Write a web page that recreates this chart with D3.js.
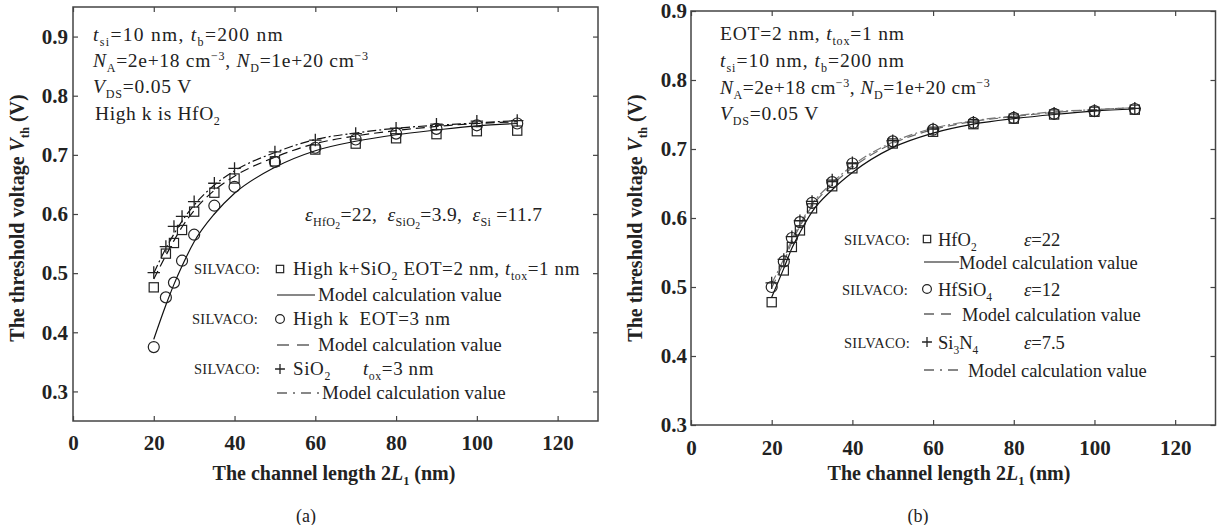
<!DOCTYPE html>
<html><head><meta charset="utf-8">
<script src="https://cdn.jsdelivr.net/npm/d3@7/dist/d3.min.js"></script>
<style>
html,body{margin:0;padding:0;background:#fff;}
svg{display:block;}
svg text{font-family:"Liberation Serif","Times New Roman",Times,serif;}
</style></head>
<body>
<svg id="chart" width="1223" height="525"></svg>
<script>
// ---------- DATA ----------
const xTicks = [0, 20, 40, 60, 80, 100, 120];
const yTicksA = [0.3, 0.4, 0.5, 0.6, 0.7, 0.8, 0.9];
const yTicksB = [0.3, 0.4, 0.5, 0.6, 0.7, 0.8, 0.9];
const lengths = [20, 23, 25, 27, 30, 35, 40, 50, 60, 70, 80, 90, 100, 110];

// Panel (a)
const aSquare  = [0.476, 0.533, 0.551, 0.573, 0.604, 0.636, 0.660, 0.689, 0.709, 0.719, 0.728, 0.735, 0.740, 0.741];
const aCircle  = [0.375, 0.459, 0.484, 0.521, 0.565, 0.614, 0.646, 0.688, 0.712, 0.726, 0.736, 0.744, 0.750, 0.753];
const aPlus    = [0.501, 0.545, 0.579, 0.596, 0.621, 0.652, 0.677, 0.705, 0.725, 0.736, 0.745, 0.752, 0.757, 0.758];
const aSolid   = [0.388, 0.446, 0.481, 0.512, 0.553, 0.600, 0.635, 0.679, 0.707, 0.723, 0.734, 0.742, 0.749, 0.753];
const aDash    = [0.490, 0.530, 0.555, 0.578, 0.606, 0.640, 0.664, 0.696, 0.719, 0.732, 0.741, 0.748, 0.753, 0.756];
const aDashDot = [0.500, 0.542, 0.566, 0.588, 0.615, 0.649, 0.673, 0.704, 0.726, 0.737, 0.745, 0.750, 0.754, 0.758];

// Panel (b)
const bSquare  = [0.478, 0.524, 0.558, 0.582, 0.614, 0.646, 0.672, 0.708, 0.725, 0.736, 0.744, 0.750, 0.754, 0.757];
const bCircle  = [0.500, 0.537, 0.571, 0.594, 0.622, 0.652, 0.679, 0.711, 0.728, 0.738, 0.745, 0.751, 0.755, 0.758];
const bPlus    = [0.506, 0.540, 0.573, 0.596, 0.624, 0.655, 0.680, 0.712, 0.729, 0.739, 0.746, 0.752, 0.756, 0.759];
const bSolid   = [0.485, 0.527, 0.556, 0.579, 0.609, 0.641, 0.666, 0.702, 0.723, 0.736, 0.744, 0.750, 0.755, 0.758];
const bDash    = [0.499, 0.536, 0.565, 0.588, 0.617, 0.648, 0.673, 0.708, 0.728, 0.740, 0.747, 0.753, 0.757, 0.760];
const bDashDot = [0.505, 0.541, 0.569, 0.591, 0.620, 0.651, 0.676, 0.710, 0.730, 0.741, 0.748, 0.754, 0.757, 0.760];

// ---------- DRAW ----------
const FONT = "Liberation Serif, Times New Roman, Times, serif";
const NB = "\u00a0";
const svg = d3.select("#chart").attr("font-family", FONT);
svg.append("rect").attr("width",1223).attr("height",525).attr("fill","#fff");

function rich(g, x, y, parts, size, opts={}) {
  const t = g.append("text").attr("x", x).attr("y", y).attr("font-family", FONT)
    .attr("font-size", size).attr("fill", "#222");
  if (opts.weight) t.attr("font-weight", opts.weight);
  if (opts.anchor) t.attr("text-anchor", opts.anchor);
  if (opts.transform) t.attr("transform", opts.transform);
  if (opts.ls) t.attr("letter-spacing", opts.ls);
  let cur = 0;
  parts.forEach(([txt, mode]) => {
    let off = 0, fs = size, italic = false;
    if (mode === "sub") { off = size * 0.26; fs = size * 0.62; }
    else if (mode === "sub2") { off = size * 0.42; fs = size * 0.5; }
    else if (mode === "sup") { off = -size * 0.38; fs = size * 0.62; }
    else if (mode === "i") { italic = true; }
    const ts = t.append("tspan").text(txt).attr("font-size", fs).attr("dy", off - cur);
    if (italic) ts.attr("font-style", "italic");
    cur = off;
  });
  return t;
}

function drawMarker(g, cx, cy, kind, s=1) {
  if (kind === "square") {
    const h = 4.6 * s;
    g.append("rect").attr("x", cx - h).attr("y", cy - h).attr("width", 2*h).attr("height", 2*h)
      .attr("fill", "none").attr("stroke", "#222").attr("stroke-width", 1.2);
  } else if (kind === "circle") {
    g.append("circle").attr("cx", cx).attr("cy", cy).attr("r", 5.5 * s)
      .attr("fill", "none").attr("stroke", "#222").attr("stroke-width", 1.2);
  } else {
    const h = 6.2 * s;
    g.append("path").attr("d", `M${cx-h},${cy}H${cx+h}M${cx},${cy-h}V${cy+h}`)
      .attr("stroke", "#222").attr("stroke-width", 1.3).attr("fill", "none");
  }
}
function markers(g, ys, xS, yS, kind) {
  lengths.forEach((xv, i) => drawMarker(g, xS(xv), yS(ys[i]), kind));
}

function panel(cfg) {
  const g = svg.append("g");
  const { xS, yS, yTicks } = cfg;
  const [x0, x1] = xS.range();
  const [y0, y1] = yS.range();
  const tickFont = 21;

  const line = (vals) => d3.line().curve(d3.curveMonotoneX)
    .x((d, i) => xS(lengths[i])).y(d => yS(d))(vals);
  cfg.lines.forEach(L => {
    g.append("path").attr("d", line(L.vals)).attr("fill", "none")
      .attr("stroke", L.color || "#111").attr("stroke-width", 1.2)
      .attr("stroke-dasharray", L.dash || null);
  });
  cfg.marks.forEach(M => markers(g, M.vals, xS, yS, M.kind));

  const ax = g.append("g").attr("transform", `translate(0,${y0})`)
    .call(d3.axisBottom(xS).tickValues(xTicks).tickFormat(d3.format("d")).tickSizeInner(-5).tickSizeOuter(0).tickPadding(cfg.xPad));
  const axT = g.append("g").attr("transform", `translate(0,${y1})`)
    .call(d3.axisTop(xS).tickValues(xTicks).tickFormat("").tickSizeInner(-5).tickSizeOuter(0));
  const ay = g.append("g").attr("transform", `translate(${x0},0)`)
    .call(d3.axisLeft(yS).tickValues(yTicks).tickFormat(d3.format(".1f")).tickSizeInner(-5).tickSizeOuter(0).tickPadding(cfg.yPad));
  const ayR = g.append("g").attr("transform", `translate(${x1},0)`)
    .call(d3.axisRight(yS).tickValues(yTicks).tickFormat("").tickSizeInner(-5).tickSizeOuter(0));
  [ax, axT, ay, ayR].forEach(a => {
    a.attr("font-family", FONT).attr("font-size", tickFont);
    a.select(".domain").remove();
    a.selectAll("line").attr("stroke", "#444").attr("stroke-width", 1.2);
    a.selectAll("text").attr("font-size", tickFont).attr("font-weight", "bold")
      .attr("font-family", FONT).attr("fill", "#222");
  });
  g.append("rect").attr("x", x0).attr("y", y1).attr("width", x1 - x0).attr("height", y0 - y1)
    .attr("fill", "none").attr("stroke", "#444").attr("stroke-width", 1.5);

  rich(g, cfg.xTitleX, 480, [["The channel length 2", ""], ["L", "i"], ["1", "sub"], [" (nm)", ""]], 20,
    { weight: "bold", anchor: "middle" });
  rich(g, 0, 0, [["The threshold voltage ", ""], ["V", "i"], ["th", "sub"], [" (V)", ""]], 20,
    { weight: "bold", anchor: "middle", transform: `translate(${cfg.yTitleX},${cfg.yTitleY}) rotate(-90)` });
  g.append("text").attr("x", cfg.capX).attr("y", 522).attr("text-anchor", "middle").attr("font-family", FONT)
    .attr("font-size", 18).attr("fill", "#222").text(cfg.cap);
  return g;
}

const fs = 19.5;

// ---------- Panel (a) ----------
const xA = d3.scaleLinear().domain([0, 130]).range([73, 598]);
const yA = d3.scaleLinear().domain([0.25, 0.95]).range([421, 7]);
const gA = panel({
  xS: xA, yS: yA, yTicks: yTicksA, xPad: 14, yPad: 5,
  lines: [{ vals: aSolid }, { vals: aDash, dash: "9,5" }, { vals: aDashDot, dash: "9,3,2,3" }],
  marks: [{ vals: aSquare, kind: "square" }, { vals: aCircle, kind: "circle" }, { vals: aPlus, kind: "plus" }],
  xTitleX: 334, yTitleX: 24, yTitleY: 218, capX: 306, cap: "(a)"
});
rich(gA, 93, 41, [["t", "i"], ["si", "sub"], ["=10 nm, ", ""], ["t", "i"], ["b", "sub"], ["=200 nm", ""]], fs, { ls: 1.3 });
rich(gA, 93, 67, [["N", "i"], ["A", "sub"], ["=2e+18 cm", ""], ["−3", "sup"], [", ", ""], ["N", "i"], ["D", "sub"], ["=1e+20 cm", ""], ["−3", "sup"]], fs, { ls: 0.7 });
rich(gA, 93, 93, [["V", "i"], ["DS", "sub"], ["=0.05 V", ""]], fs, { ls: 0.8 });
rich(gA, 95, 120, [["High k is HfO", ""], ["2", "sub"]], fs, { ls: 0.6 });
rich(gA, 305, 221, [["ε", "i"], ["HfO", "sub"], ["2", "sub2"], ["=22," + NB + NB, ""], ["ε", "i"], ["SiO", "sub"], ["2", "sub2"], ["=3.9," + NB + NB, ""], ["ε", "i"], ["Si", "sub"], [NB + "=11.7", ""]], fs, { ls: 0.3 });

const fsL = 19;
function legendRows(g, rows) {
  rows.forEach(r => {
    if (r.kind) {
      g.append("text").attr("x", r.sx).attr("y", r.y + 5).attr("font-family", FONT).attr("font-size", 14.5).attr("fill", "#222")
        .attr("letter-spacing", 0.3).text("SILVACO:");
      drawMarker(g, r.mx, r.y, r.kind, 0.8);
      rich(g, r.tx, r.y + 6, r.parts, fsL, { ls: r.ls || 0 });
    } else {
      g.append("line").attr("x1", r.lx0).attr("x2", r.lx1).attr("y1", r.y).attr("y2", r.y)
        .attr("stroke", "#111").attr("stroke-width", 1.2).attr("stroke-dasharray", r.dash || null);
      rich(g, r.tx, r.y + 6, [["Model calculation value", ""]], fsL);
    }
  });
}
legendRows(gA, [
  { sx: 194, y: 269, mx: 280, kind: "square", tx: 293, ls: 0.6,
    parts: [["High k+SiO", ""], ["2", "sub"], [" EOT=2 nm, ", ""], ["t", "i"], ["tox", "sub"], ["=1 nm", ""]] },
  { lx0: 277, lx1: 315, y: 295, tx: 318 },
  { sx: 192, y: 319, mx: 280, kind: "circle", tx: 293, ls: 0.6, parts: [["High k" + NB + NB + "EOT=3 nm", ""]] },
  { lx0: 277, lx1: 314, y: 345, dash: "12,8", tx: 318 },
  { sx: 194, y: 369, mx: 280, kind: "plus", tx: 293, ls: 0.6,
    parts: [["SiO", ""], ["2", "sub"], [NB.repeat(6), ""], ["t", "i"], ["ox", "sub"], ["=3 nm", ""]] },
  { lx0: 277, lx1: 320, y: 393, dash: "10,6,2,6", tx: 322 }
]);

// ---------- Panel (b) ----------
const xB = d3.scaleLinear().domain([0, 130]).range([691, 1215.5]);
const yB = d3.scaleLinear().domain([0.3, 0.9]).range([425, 11]);
const gB = panel({
  xS: xB, yS: yB, yTicks: yTicksB, xPad: 15, yPad: 4,
  lines: [{ vals: bSolid }, { vals: bDash, dash: "9,5", color: "#666" }, { vals: bDashDot, dash: "9,3,2,3", color: "#777" }],
  marks: [{ vals: bSquare, kind: "square" }, { vals: bCircle, kind: "circle" }, { vals: bPlus, kind: "plus" }],
  xTitleX: 949, yTitleX: 642, yTitleY: 218, capX: 918, cap: "(b)"
});
rich(gB, 720, 40, [["EOT=2 nm, ", ""], ["t", "i"], ["tox", "sub"], ["=1 nm", ""]], fs, { ls: 0.8 });
rich(gB, 720, 67, [["t", "i"], ["si", "sub"], ["=10 nm, ", ""], ["t", "i"], ["b", "sub"], ["=200 nm", ""]], fs, { ls: 1.0 });
rich(gB, 720, 94, [["N", "i"], ["A", "sub"], ["=2e+18 cm", ""], ["−3", "sup"], [", ", ""], ["N", "i"], ["D", "sub"], ["=1e+20 cm", ""], ["−3", "sup"]], fs, { ls: 0.5 });
rich(gB, 720, 120, [["V", "i"], ["DS", "sub"], ["=0.05 V", ""]], fs, { ls: 0.8 });

const fsB = 18.5;
function legendB(g, rows) {
  rows.forEach(r => {
    if (r.kind) {
      g.append("text").attr("x", r.sx).attr("y", r.y + 6).attr("font-family", FONT).attr("font-size", 14.5).attr("fill", "#222")
        .attr("letter-spacing", 0.3).text("SILVACO:");
      drawMarker(g, 927, r.y, r.kind, 0.8);
      rich(g, 938, r.y + 7, r.parts, fsB);
      rich(g, 1024, r.y + 7, [["ε", "i"], [r.eps, ""]], fsB);
    } else {
      g.append("line").attr("x1", 924).attr("x2", r.lx1).attr("y1", r.y).attr("y2", r.y)
        .attr("stroke", "#111").attr("stroke-width", 1.2).attr("stroke-dasharray", r.dash || null);
      rich(g, r.tx, r.y + 7, [["Model calculation value", ""]], fsB);
    }
  });
}
legendB(gB, [
  { kind: "square", sx: 844, y: 239, parts: [["HfO", ""], ["2", "sub"]], eps: "=22" },
  { lx1: 959, y: 262, tx: 959 },
  { kind: "circle", sx: 842, y: 289, parts: [["HfSiO", ""], ["4", "sub"]], eps: "=12" },
  { lx1: 957, y: 314, dash: "10,7", tx: 962 },
  { kind: "plus", sx: 844, y: 342, parts: [["Si", ""], ["3", "sub"], ["N", ""], ["4", "sub"]], eps: "=7.5" },
  { lx1: 964, y: 370, dash: "10,6,2,6", tx: 968 }
]);
</script>
</body></html>
